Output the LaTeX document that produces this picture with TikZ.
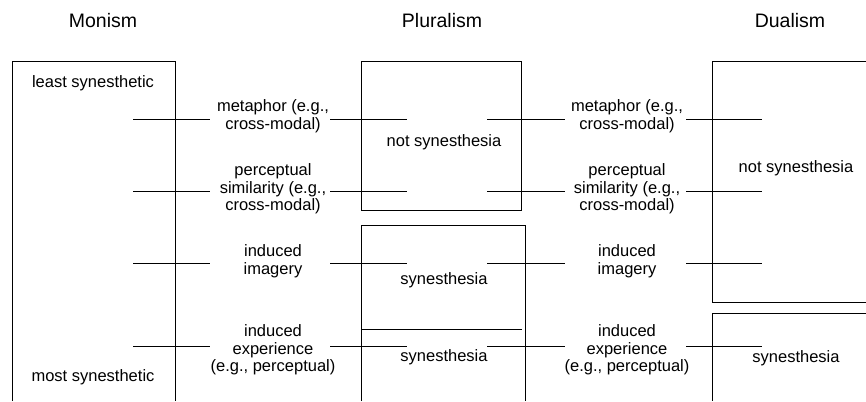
\documentclass[tikz,border=0pt]{standalone}
\usepackage{fontspec}
\setmainfont{Liberation Sans}
\usetikzlibrary{positioning}

\begin{document}
\begin{tikzpicture}[x=1pt, y=-1pt, line width=0.9pt,
  lbl/.style={align=center, inner sep=0pt, font=\fontsize{16.5}{17.5}\selectfont},
  ttl/.style={inner sep=0pt, font=\fontsize{19.5}{22}\selectfont}]
  \useasboundingbox (0,0) rectangle (866,401);
  % titles
  \node[ttl] (monism) at (103,21) {Monism};
  \node[ttl] (pluralism) at (442,21) {Pluralism};
  \node[ttl] (dualism) at (790,21) {Dualism};
  % monism: one open scale
  \draw (12,401) -- (12,61) -- (175,61) -- (175,401);
  \node[lbl] (least) at (93,83) {least synesthetic};
  \node[lbl] (most) at (93,377) {most synesthetic};
  % pluralism: three boxes
  \draw (361,61) rectangle (521,210);
  \draw (361,401) -- (361,225) -- (525,225) -- (525,401);
  \draw (361,329) -- (522,329);
  \node[lbl] (notsyn-p) at (444,142) {not synesthesia};
  \node[lbl] (syn-p1) at (444,280) {synesthesia};
  \node[lbl] (syn-p2) at (444,357) {synesthesia};
  % dualism: two boxes
  \draw (866,61) -- (712,61) -- (712,302) -- (866,302);
  \draw (866,313) -- (712,313) -- (712,401);
  \node[lbl] (notsyn-d) at (796,168) {not synesthesia};
  \node[lbl] (syn-d) at (796,358) {synesthesia};
  % ticks
  \foreach \y in {119,191,263,346} {
    \draw (133,\y) -- (210,\y);
    \draw (330,\y) -- (407,\y);
    \draw (487,\y) -- (565,\y);
    \draw (686,\y) -- (762,\y);
  }
  % row labels
  \foreach \nm/\y/\txt in {met/116/{metaphor (e.g.,\\cross-modal)},
      per/189/{perceptual\\similarity (e.g.,\\cross-modal)},
      ima/261/{induced\\imagery},
      exp/350/{induced\\experience\\(e.g., perceptual)}} {
    \node[lbl] (\nm-l) at (273,\y) {\txt};
    \node[lbl] (\nm-r) at (627,\y) {\txt};
  }
\end{tikzpicture}
\end{document}
